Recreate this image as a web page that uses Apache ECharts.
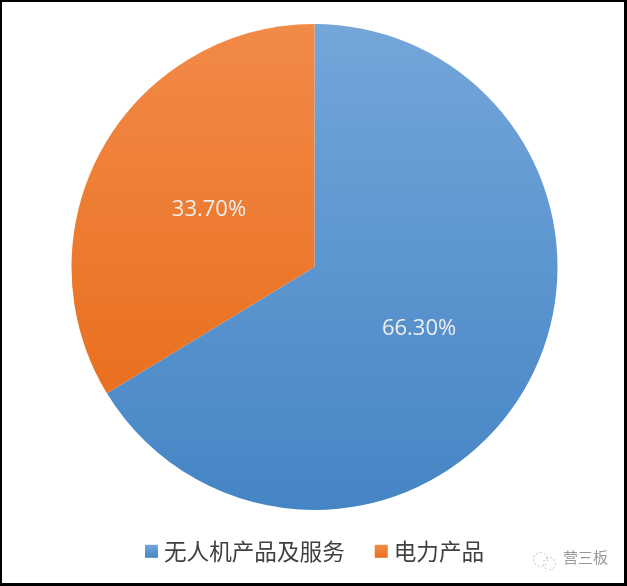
<!DOCTYPE html>
<html><head><meta charset="utf-8">
<style>html,body{margin:0;padding:0;background:#fff}#c{width:627px;height:586px}</style>
<script src="https://cdn.jsdelivr.net/npm/echarts@6/dist/echarts.min.js"></script></head>
<body><div id="c"></div>
<script>
const categories=['无人机产品及服务','电力产品'];
const values=[66.30,33.70];
const labels=['66.30%','33.70%'];
const watermark='营三板';
const chart=echarts.init(document.getElementById('c'),null,{renderer:'canvas'});
const grad=(a,b)=>new echarts.graphic.LinearGradient(0,0,0,1,[{offset:0,color:a},{offset:1,color:b}]);
chart.setOption({
 animation:false,
 backgroundColor:'#ffffff',
 legend:{left:140,top:535,itemWidth:13,itemHeight:13,itemGap:30,icon:'rect',
  data:categories,textStyle:{fontSize:22.6,color:'#404040',padding:[0,0,0,1],fontFamily:'"Noto Sans CJK SC"'}},
 graphic:[
  {type:'rect',left:0,top:0,z:20,shape:{width:2,height:586},style:{fill:'#000'}},
  {type:'rect',left:0,top:0,z:20,shape:{width:627,height:2},style:{fill:'#000'}},
  {type:'rect',left:624,top:0,z:20,shape:{width:3,height:586},style:{fill:'#000'}},
  {type:'rect',left:0,top:583,z:20,shape:{width:627,height:3},style:{fill:'#000'}},
  {type:'circle',left:531,top:550,shape:{r:7},style:{fill:'none',stroke:'#c4c4c4',lineWidth:1,lineDash:[2,2]}},
  {type:'circle',left:541,top:555,shape:{r:6},style:{fill:'none',stroke:'#c4c4c4',lineWidth:1,lineDash:[2,2]}},
  {type:'text',left:563,top:550,style:{text:watermark,fontSize:15,fill:'#999999',fontFamily:'"Noto Sans CJK SC"'}}
 ],
 series:[{type:'pie',center:[314.5,267],radius:[0,243],startAngle:90,clockwise:true,
  label:{show:true,position:'inside',formatter:p=>labels[p.dataIndex],fontSize:22,color:'#eeeeee',
   fontFamily:'"Open Sans"'},
  labelLayout:p=>p.dataIndex===0?{dx:-4,dy:1}:{dx:3,dy:4},
  labelLine:{show:false},
  itemStyle:{borderWidth:0},
  data:categories.map((n,i)=>({name:n,value:values[i],
   itemStyle:{color:i==0?grad('#74a6da','#4585c5'):grad('#f28a48','#e9701f')}}))
 }]
});
</script></body></html>
